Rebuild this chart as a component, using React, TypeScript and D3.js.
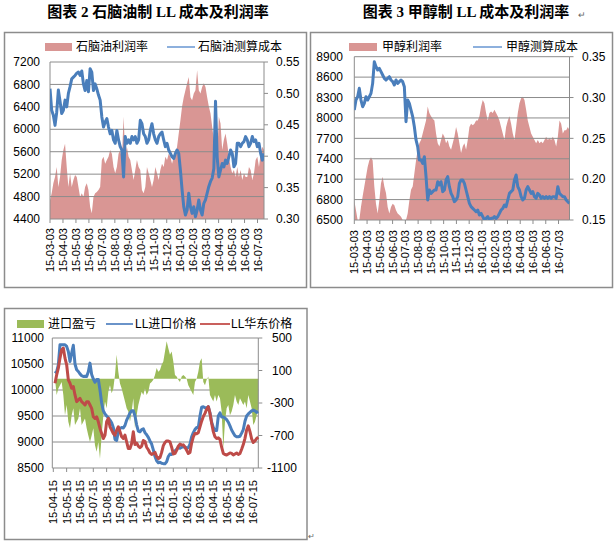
import React from 'react';
import * as d3 from 'd3';

// ---------- Panel 1: naphtha ----------
const p1Ticks = ['15-03-03','15-04-03','15-05-03','15-06-03','15-07-03','15-08-03','15-09-03','15-10-03','15-11-03','15-12-03','16-01-03','16-02-03','16-03-03','16-04-03','16-05-03','16-06-03','16-07-03'];
const p1LeftTicks = [4400,4800,5200,5600,6000,6400,6800,7200];
const p1RightTicks = [0.30,0.35,0.40,0.45,0.50,0.55];
const naphthaCost = [6725,6340,6250,6070,6300,6700,6500,6280,6340,6520,6400,6640,6760,6900,6930,6960,7000,7020,6960,7040,6810,6690,6870,6670,7080,7020,6690,6810,6720,6610,6520,6220,6040,6130,6190,6040,5920,5980,5810,5750,5980,5810,5690,5630,5150,5870,5750,5810,5750,5870,5810,5870,5750,5810,6160,6100,5920,5870,5750,5810,5980,6100,5920,5810,5750,5870,5920,5950,5810,5690,5750,5630,5570,5510,5480,5570,5630,5570,5270,4920,4620,4470,4560,4860,4620,4500,4620,4440,4560,4740,4560,4470,4680,4740,4860,4980,5070,5130,5300,6500,5500,5150,5270,5390,5330,5450,5390,5510,5630,5570,5330,5390,5750,5750,5690,5750,5780,5870,5810,5690,5750,5870,5780,5810,5690,5750,5570,5450,5570];
const naphthaMargin = [0.330,0.341,0.357,0.367,0.383,0.351,0.367,0.394,0.410,0.420,0.383,0.351,0.373,0.351,0.362,0.370,0.367,0.351,0.335,0.341,0.335,0.351,0.357,0.346,0.319,0.309,0.335,0.341,0.343,0.346,0.351,0.394,0.399,0.388,0.394,0.399,0.410,0.404,0.383,0.373,0.383,0.404,0.410,0.394,0.463,0.404,0.415,0.399,0.394,0.378,0.362,0.378,0.394,0.383,0.378,0.346,0.341,0.351,0.383,0.373,0.362,0.351,0.362,0.383,0.373,0.362,0.378,0.388,0.383,0.399,0.394,0.404,0.399,0.388,0.399,0.404,0.415,0.436,0.457,0.479,0.494,0.505,0.516,0.526,0.494,0.489,0.500,0.505,0.537,0.505,0.500,0.510,0.516,0.510,0.494,0.479,0.468,0.447,0.426,0.410,0.399,0.463,0.452,0.410,0.426,0.436,0.420,0.399,0.383,0.373,0.378,0.367,0.383,0.367,0.378,0.362,0.373,0.367,0.367,0.383,0.378,0.362,0.373,0.394,0.399,0.383,0.404,0.415,0.410];

// ---------- Panel 2: methanol ----------
const p2LeftTicks = [6500,6800,7100,7400,7700,8000,8300,8600,8900];
const p2RightTicks = [0.15,0.20,0.25,0.30,0.35];
const methanolCost = [8116,8263,8312,8435,8263,8165,8214,8312,8263,8312,8361,8508,8827,8753,8704,8729,8680,8631,8582,8557,8582,8606,8557,8533,8484,8557,8508,8533,8557,8533,8459,7945,8263,8214,8116,8018,7871,7676,7578,7382,7382,7333,7431,7137,6794,6941,6892,6917,6941,6941,7063,7014,7063,6917,6941,7088,7137,6990,6892,6843,6769,6794,6843,7039,7088,7088,7039,6941,6843,6745,6696,6671,6647,6622,6647,6573,6598,6549,6500,6524,6549,6500,6524,6524,6549,6524,6549,6598,6647,6671,6720,6696,6794,6892,6917,6941,7088,7161,6990,6941,6843,6794,6819,6941,6990,6941,6892,6917,6843,6819,6892,6868,6819,6843,6819,6843,6819,6843,6819,6843,6843,6819,6990,6892,6868,6843,6843,6794,6769,6745];
const methanolMargin = [0.174,0.162,0.150,0.148,0.166,0.179,0.191,0.203,0.215,0.223,0.227,0.223,0.191,0.170,0.158,0.174,0.195,0.203,0.191,0.183,0.166,0.158,0.166,0.170,0.168,0.162,0.158,0.156,0.154,0.150,0.146,0.146,0.158,0.174,0.187,0.191,0.207,0.223,0.236,0.244,0.248,0.256,0.264,0.272,0.289,0.281,0.277,0.274,0.272,0.256,0.244,0.240,0.248,0.256,0.252,0.244,0.248,0.240,0.236,0.244,0.252,0.264,0.256,0.244,0.232,0.240,0.244,0.236,0.248,0.264,0.268,0.266,0.268,0.272,0.272,0.277,0.289,0.297,0.293,0.281,0.272,0.281,0.283,0.281,0.285,0.281,0.277,0.272,0.264,0.256,0.248,0.264,0.272,0.277,0.268,0.256,0.248,0.264,0.281,0.293,0.299,0.301,0.297,0.285,0.272,0.264,0.256,0.252,0.248,0.244,0.248,0.244,0.246,0.244,0.248,0.252,0.248,0.250,0.248,0.252,0.248,0.240,0.252,0.272,0.268,0.256,0.260,0.260,0.264,0.260];

// ---------- Panel 3: import ----------
const p3Ticks = ['15-04-15','15-05-15','15-06-15','15-07-15','15-08-15','15-09-15','15-10-15','15-11-15','15-12-15','16-01-15','16-02-15','16-03-15','16-04-15','16-05-15','16-06-15','16-07-15'];
const p3LeftTicks = [8500,9000,9500,10000,10500,11000];
const p3RightTicks = [-1100,-700,-300,100,500];
const importPrice = [10323,10356,10485,10871,10871,10871,10871,10839,10742,10549,10710,10860,10500,10390,10356,10310,10275,10259,10265,10260,10350,10517,10300,10210,10150,10200,10200,10000,9750,9600,9540,9500,9465,9420,9370,9280,9050,9030,9200,9260,9280,9270,9320,9420,9490,9560,9600,9600,9500,9330,9210,9196,9240,9255,9180,9140,9090,9020,8960,8850,8720,8640,8600,8610,8590,8584,8584,8620,8720,8770,8760,8790,8830,8860,8900,8880,8900,8906,8906,8880,8890,8960,9100,9180,9240,9280,9280,9500,9670,9679,9660,9660,9679,9560,9380,9280,9220,9220,9500,9560,9480,9480,9460,9430,9380,9310,9230,9175,9120,9100,9100,9110,9170,9240,9400,9500,9540,9570,9600,9615,9600,9570,9583];
const eastPrice = [10130,10291,10420,10613,10774,10807,10613,10485,10195,10130,10034,10066,9905,9776,9808,9840,9776,9744,9711,9776,9776,9711,9647,9486,9454,9486,9389,9260,9164,9067,9132,9389,9454,9293,9228,9164,9132,9228,9293,9196,9100,9067,9132,9003,8874,8874,8970,9196,8950,8980,8920,8890,8920,9030,9010,8900,8850,8790,8760,8780,8800,8720,8680,8700,8800,8930,8990,9020,9020,9003,8900,8770,8780,8840,8920,8960,8940,8945,8900,8840,8780,8800,8980,9100,9165,9160,9180,9290,9400,9490,9550,9630,9679,9550,9360,9200,9100,9067,9080,9050,8900,8780,8760,8750,8770,8790,8780,8750,8770,8790,8760,8780,8860,8950,9070,9230,9310,9200,9060,8990,9020,9067,9090];
const importPL = [0,-200,-120,-80,-40,-200,-450,-325,-530,-610,-450,-365,-570,-530,-490,-365,-570,-530,-490,-610,-700,-780,-700,-610,-820,-900,-780,-985,-700,-450,-280,-365,-160,-80,-180,-120,45,295,85,-60,-120,-200,-280,-365,-405,-530,-405,-240,-610,-450,-325,-240,-160,-200,-120,-200,-160,-60,-40,-15,45,130,85,105,170,210,335,460,375,295,335,210,45,25,-15,-40,25,45,25,0,-80,-120,-160,-200,-40,0,85,210,250,-40,-80,-15,25,-200,-240,-280,-200,-280,-200,-240,-405,-860,-530,-365,-325,-450,-405,-325,-200,-280,-325,-240,-280,-325,-280,-365,-200,-280,-365,-570,-530,-450,-365];

const NUM_FONT = '"Liberation Sans", Arial, sans-serif';
const CJK_FONT = '"Liberation Sans", "Noto Sans CJK SC", sans-serif';
const TITLE_FONT = '"Liberation Serif", "Noto Sans CJK SC", serif';
const GRID = '#8c8c8c';
const PINK = '#D99694';
const BLUE = '#4A7EBB';
const RED = '#BE4B48';
const GREEN = '#9BBB59';

function XLabels({ labels, scale, y, tickY }: { labels: string[]; scale: (v: number) => number; y: number; tickY: number }) {
  return (
    <g>
      {labels.map((l, i) => {
        const x = scale(i);
        return (
          <g key={l}>
            <line x1={x} x2={x} y1={tickY} y2={tickY + 4} stroke={GRID} strokeWidth={1} />
            <text transform={`translate(${x + 4},${y}) rotate(-90)`} textAnchor="end" fontFamily={NUM_FONT} fontSize={11} fill="#000">{l}</text>
          </g>
        );
      })}
    </g>
  );
}

function Panel1() {
  const L = 50, R = 264, T = 62, B = 219;
  const xm = d3.scaleLinear().domain([0, 16.5]).range([L, R]);
  const xi = d3.scaleLinear().domain([0, naphthaCost.length - 1]).range([L, R]);
  const xi2 = d3.scaleLinear().domain([0, naphthaMargin.length - 1]).range([L, R]);
  const yL = d3.scaleLinear().domain([4400, 7200]).range([B, T]);
  const yR = d3.scaleLinear().domain([0.30, 0.55]).range([B, T]);
  const area = d3.area<number>().x((_, i) => xi2(i)).y0(B).y1(d => yR(d));
  const line = d3.line<number>().x((_, i) => xi(i)).y(d => yL(d));
  return (
    <g>
      <rect x={4.5} y={32.5} width={302} height={255} fill="#fff" stroke={GRID} strokeWidth={1.5} />
      <text x={158} y={17} textAnchor="middle" fontFamily={TITLE_FONT} fontSize={15} fontWeight={600}>图表 2 石脑油制 LL 成本及利润率</text>
      <clipPath id="c1"><rect x={L} y={T} width={R - L} height={B - T} /></clipPath>
      <path d={area(naphthaMargin) || ''} fill={PINK} clipPath="url(#c1)" />
      {p1LeftTicks.map(t => (
        <g key={t}>
          <line x1={L} x2={R} y1={yL(t)} y2={yL(t)} stroke={GRID} strokeWidth={1} />
          <text x={40} y={yL(t)} dy="0.35em" textAnchor="end" fontFamily={NUM_FONT} fontSize={12}>{t}</text>
        </g>
      ))}
      {p1RightTicks.map(t => (
        <g key={t}>
          <line x1={R} x2={R + 4} y1={yR(t)} y2={yR(t)} stroke={GRID} />
          <text x={276} y={yR(t)} dy="0.35em" fontFamily={NUM_FONT} fontSize={12}>{t.toFixed(2)}</text>
        </g>
      ))}
      <line x1={L} x2={L} y1={T} y2={B} stroke={GRID} />
      <line x1={R} x2={R} y1={T} y2={B} stroke={GRID} />
      <path d={line(naphthaCost) || ''} fill="none" stroke={BLUE} strokeWidth={3} strokeLinejoin="round" clipPath="url(#c1)" />
      <XLabels labels={p1Ticks} scale={xm} y={228} tickY={B} />
      <rect x={45} y={43} width={27} height={8} fill={PINK} />
      <text x={76} y={47} dy="0.35em" fontFamily={CJK_FONT} fontSize={12}>石脑油利润率</text>
      <line x1={167} x2={195} y1={47} y2={47} stroke="#8DB0DD" strokeWidth={2} />
      <text x={198} y={47} dy="0.35em" fontFamily={CJK_FONT} fontSize={12}>石脑油测算成本</text>
    </g>
  );
}

function Panel2() {
  const L = 354.3, R = 569.5, T = 56.7, B = 220;
  const xm = d3.scaleLinear().domain([0, 16.86]).range([L, R]);
  const xi = d3.scaleLinear().domain([0, methanolCost.length - 1]).range([L, R]);
  const xi2 = d3.scaleLinear().domain([0, methanolMargin.length - 1]).range([L, R]);
  const yL = d3.scaleLinear().domain([6500, 8900]).range([B, T]);
  const yR = d3.scaleLinear().domain([0.15, 0.35]).range([B, T]);
  const area = d3.area<number>().x((_, i) => xi2(i)).y0(B).y1(d => yR(Math.max(d, 0.15)));
  const line = d3.line<number>().x((_, i) => xi(i)).y(d => yL(d));
  return (
    <g>
      <rect x={310.5} y={32.5} width={302} height={255} fill="#fff" stroke={GRID} strokeWidth={1.5} />
      <text x={466} y={17} textAnchor="middle" fontFamily={TITLE_FONT} fontSize={15} fontWeight={600}>图表 3 甲醇制 LL 成本及利润率</text>
      <text x={578} y={18} fontFamily={NUM_FONT} fontSize={9} fill="#666">↵</text>
      <clipPath id="c2"><rect x={L} y={T} width={R - L} height={B - T} /></clipPath>
      <path d={area(methanolMargin) || ''} fill={PINK} clipPath="url(#c2)" />
      {p2LeftTicks.map(t => (
        <g key={t}>
          <line x1={L} x2={R} y1={yL(t)} y2={yL(t)} stroke={GRID} strokeWidth={1} />
          <text x={343} y={yL(t)} dy="0.35em" textAnchor="end" fontFamily={NUM_FONT} fontSize={12}>{t}</text>
        </g>
      ))}
      {p2RightTicks.map(t => (
        <g key={t}>
          <line x1={R} x2={R + 4} y1={yR(t)} y2={yR(t)} stroke={GRID} />
          <text x={582} y={yR(t)} dy="0.35em" fontFamily={NUM_FONT} fontSize={12}>{t.toFixed(2)}</text>
        </g>
      ))}
      <line x1={L} x2={L} y1={T} y2={B} stroke={GRID} />
      <line x1={R} x2={R} y1={T} y2={B} stroke={GRID} />
      <path d={line(methanolCost) || ''} fill="none" stroke={BLUE} strokeWidth={3} strokeLinejoin="round" clipPath="url(#c2)" />
      <XLabels labels={p1Ticks} scale={xm} y={230} tickY={B} />
      <rect x={349} y={43} width={28} height={8} fill={PINK} />
      <text x={382} y={47} dy="0.35em" fontFamily={CJK_FONT} fontSize={12}>甲醇利润率</text>
      <line x1={473} x2={502} y1={47} y2={47} stroke="#8DB0DD" strokeWidth={2} />
      <text x={506} y={47} dy="0.35em" fontFamily={CJK_FONT} fontSize={12}>甲醇测算成本</text>
    </g>
  );
}

function Panel3() {
  const L = 52.3, R = 258.3, T = 338, B = 468;
  const xm = d3.scaleLinear().domain([0, 15.375]).range([53.3, R]);
  const xa = d3.scaleLinear().domain([0, importPrice.length - 1]).range([55, R]);
  const xb = d3.scaleLinear().domain([0, eastPrice.length - 1]).range([55, R]);
  const xc = d3.scaleLinear().domain([0, importPL.length - 1]).range([55, R]);
  const yL = d3.scaleLinear().domain([8500, 11000]).range([B, T]);
  const yR = d3.scaleLinear().domain([-1100, 500]).range([B, T]);
  const area = d3.area<number>().x((_, i) => xc(i)).y0(yR(0)).y1(d => yR(d));
  const lineA = d3.line<number>().x((_, i) => xa(i)).y(d => yL(d));
  const lineB = d3.line<number>().x((_, i) => xb(i)).y(d => yL(d));
  return (
    <g>
      <rect x={4.5} y={308.5} width={302.5} height={231} fill="#fff" stroke={GRID} strokeWidth={1.5} />
      <clipPath id="c3"><rect x={L} y={T - 2} width={R - L + 2} height={B - T + 4} /></clipPath>
      {p3LeftTicks.map(t => (
        <g key={t}>
          <line x1={L} x2={R} y1={yL(t)} y2={yL(t)} stroke={GRID} strokeWidth={1} />
          <text x={44} y={yL(t)} dy="0.35em" textAnchor="end" fontFamily={NUM_FONT} fontSize={12}>{t}</text>
        </g>
      ))}
      <path d={area(importPL) || ''} fill={GREEN} clipPath="url(#c3)" />
      {p3RightTicks.map(t => (
        <g key={t}>
          <line x1={R} x2={R + 4} y1={yR(t)} y2={yR(t)} stroke={GRID} />
          <text x={282} y={yR(t)} dy="0.35em" textAnchor="middle" fontFamily={NUM_FONT} fontSize={12}>{t}</text>
        </g>
      ))}
      <line x1={L} x2={L} y1={T} y2={B} stroke={GRID} />
      <line x1={R} x2={R} y1={T} y2={B} stroke={GRID} />
      <path d={lineA(importPrice) || ''} fill="none" stroke={BLUE} strokeWidth={3} strokeLinejoin="round" clipPath="url(#c3)" />
      <path d={lineB(eastPrice) || ''} fill="none" stroke={RED} strokeWidth={3} strokeLinejoin="round" clipPath="url(#c3)" />
      <XLabels labels={p3Ticks} scale={xm} y={480} tickY={B} />
      <rect x={17} y={320} width={27} height={8} fill={GREEN} />
      <text x={48} y={324} dy="0.35em" fontFamily={CJK_FONT} fontSize={12}>进口盈亏</text>
      <line x1={106} x2={133} y1={324} y2={324} stroke="#6A93C9" strokeWidth={2} />
      <text x={135} y={324} dy="0.35em" fontFamily={CJK_FONT} fontSize={12}>LL进口价格</text>
      <line x1={200} x2={230} y1={324} y2={324} stroke="#C9605D" strokeWidth={2} />
      <text x={231} y={324} dy="0.35em" fontFamily={CJK_FONT} fontSize={12}>LL华东价格</text>
      <text x={308} y={539} fontFamily={NUM_FONT} fontSize={8} fill="#666">↵</text>
    </g>
  );
}

export default function App() {
  return (
    <svg width={614} height={543} viewBox="0 0 614 543" style={{ position: 'absolute', left: 0, top: 0, background: '#fff' }}>
      <rect x={0} y={0} width={614} height={543} fill="#fff" />
      <Panel1 />
      <Panel2 />
      <Panel3 />
    </svg>
  );
}
